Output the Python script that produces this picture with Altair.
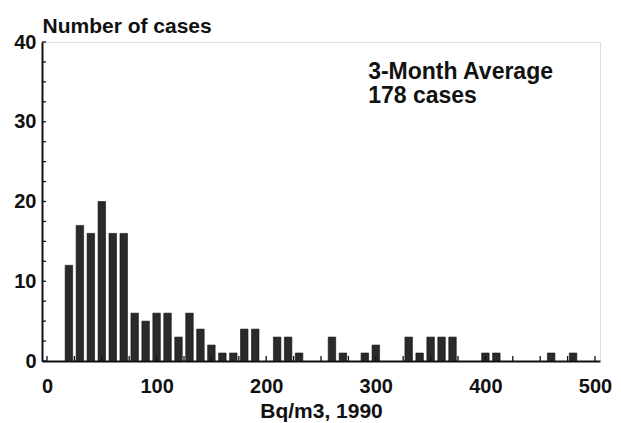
import altair as alt
import pandas as pd

# bin centers (Bq/m3) and number of cases
bins = [20, 30, 40, 50, 60, 70, 80, 90, 100, 110, 120, 130, 140, 150, 160, 170,
        180, 190, 210, 220, 230, 260, 270, 290, 300, 330, 340, 350, 360, 370,
        400, 410, 460, 480]
cases = [12, 17, 16, 20, 16, 16, 6, 5, 6, 6, 3, 6, 4, 2, 1, 1,
         4, 4, 3, 3, 1, 3, 1, 1, 2, 3, 1, 3, 3, 3,
         1, 1, 1, 1]

x_labels = [0, 100, 200, 300, 400, 500]
y_labels = [0, 10, 20, 30, 40]
x_minor = [25 * i for i in range(21)]
y_minor = [2.5 * i for i in range(17)]

FONT = "Liberation Sans"

df = pd.DataFrame({"bq": bins, "n": cases})
xs = alt.Scale(domain=[0, 500], nice=False)
ys = alt.Scale(domain=[0, 40], nice=False)

bars = alt.Chart(df).mark_bar(orient="vertical", size=7.5, color="#2a2a2a",
                              stroke="#111", strokeWidth=0.6).encode(
    x=alt.X("bq:Q", scale=xs,
            axis=alt.Axis(values=x_labels, ticks=False, grid=False,
                          labelFont=FONT, labelFontSize=20, labelFontWeight="bold",
                          labelColor="#111", labelPadding=15, domainColor="#111",
                          domainWidth=2, title="Bq/m3, 1990", titleFont=FONT,
                          titleFontSize=21, titleFontWeight="bold", titleColor="#111",
                          titlePadding=4)),
    y=alt.Y("n:Q", scale=ys,
            axis=alt.Axis(values=y_labels, ticks=False, grid=False,
                          labelFont=FONT, labelFontSize=20, labelFontWeight="bold",
                          labelColor="#111", labelPadding=6, domainColor="#111",
                          domainWidth=2, title="Number of cases", titleAngle=0,
                          titleAlign="left", titleBaseline="alphabetic", titleX=0, titleY=-10,
                          titleFont=FONT, titleFontSize=21, titleFontWeight="bold",
                          titleColor="#111")),
)

yt = alt.Chart(pd.DataFrame({"v": y_minor})).mark_rule(color="#111", strokeWidth=1.3).encode(
    y=alt.Y("v:Q", scale=ys), x=alt.value(0), x2=alt.value(4))
xt = alt.Chart(pd.DataFrame({"v": x_minor})).mark_rule(color="#111", strokeWidth=1.3).encode(
    x=alt.X("v:Q", scale=xs), y=alt.value(319), y2=alt.value(314))

note = alt.Chart(pd.DataFrame({"x": [293], "y": [37.6], "t": [["3-Month Average", "178 cases"]]})).mark_text(
    align="left", baseline="top", font=FONT, fontSize=23, fontWeight="bold",
    color="#111", lineHeight=24).encode(
    x=alt.X("x:Q", scale=xs), y=alt.Y("y:Q", scale=ys), text="t")

chart = alt.layer(bars, yt, xt, note).properties(
    width=558, height=319,
    autosize=alt.AutoSizeParams(type="none"),
    padding={"left": 42, "top": 42, "right": 21, "bottom": 62},
).configure_view(stroke="#111", strokeWidth=2).configure(background="white")

chart.save("out.html", embed_options={"renderer": "svg", "actions": False})
